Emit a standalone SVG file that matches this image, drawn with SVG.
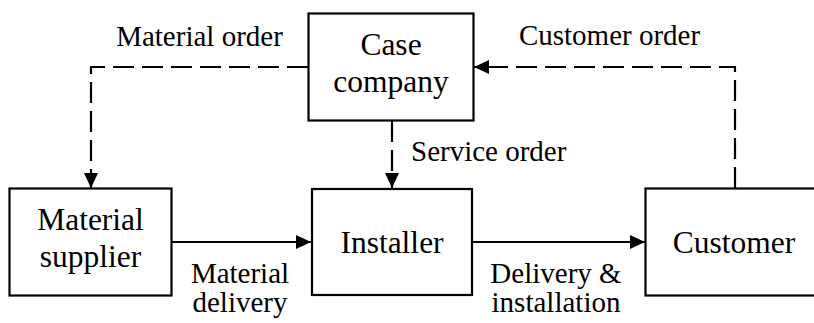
<svg xmlns="http://www.w3.org/2000/svg" width="814" height="323" viewBox="0 0 814 323">
<defs>
<style>
.box{fill:#fff;stroke:#000;stroke-width:2.2}
text{font-family:'Liberation Serif','Times New Roman',serif;fill:#000}
.bt{font-size:31.5px;text-anchor:middle}
.lt{font-size:29px}
.mid{text-anchor:middle}
.solid{fill:none;stroke:#000;stroke-width:2.2}
.dash{fill:none;stroke:#000;stroke-width:2.2;stroke-dasharray:21 8}
</style>
<marker id="arr" markerUnits="userSpaceOnUse" markerWidth="16" markerHeight="16" refX="15" refY="7" orient="auto">
<path d="M0,0 L15,7 L0,14 z" fill="#000"/>
</marker>
</defs>
<rect width="814" height="323" fill="#fff"/>
<g id="connectors">
<path class="dash" d="M308,67 H91 V188" marker-end="url(#arr)"/>
<path class="dash" d="M735,188 V67 H474" marker-end="url(#arr)"/>
<path class="dash" d="M392,121 V188" marker-end="url(#arr)"/>
<path class="solid" d="M172,242 H311" marker-end="url(#arr)"/>
<path class="solid" d="M472,242 H645" marker-end="url(#arr)"/>
<text class="lt mid" x="199.5" y="46">Material order</text>
<text class="lt mid" x="609.5" y="45">Customer order</text>
<text class="lt" x="411" y="161">Service order</text>
<text class="lt mid" x="240" y="283">Material</text>
<text class="lt mid" x="240" y="312">delivery</text>
<text class="lt mid" x="556" y="283">Delivery &amp;</text>
<text class="lt mid" x="556" y="312">installation</text>
</g>
<g id="case-company">
<rect class="box" x="308.5" y="13.5" width="165" height="107"/>
<text class="bt" x="391" y="55">Case</text>
<text class="bt" x="391" y="92">company</text>
</g>
<g id="material-supplier">
<rect class="box" x="9.5" y="188.5" width="162" height="107"/>
<text class="bt" x="90.5" y="230">Material</text>
<text class="bt" x="90.5" y="267">supplier</text>
</g>
<g id="installer">
<rect class="box" x="312" y="189" width="160" height="106"/>
<text class="bt" x="392" y="253">Installer</text>
</g>
<g id="customer">
<rect class="box" x="645.5" y="188.5" width="178" height="107"/>
<text class="bt" x="734" y="253">Customer</text>
</g>
</svg>
